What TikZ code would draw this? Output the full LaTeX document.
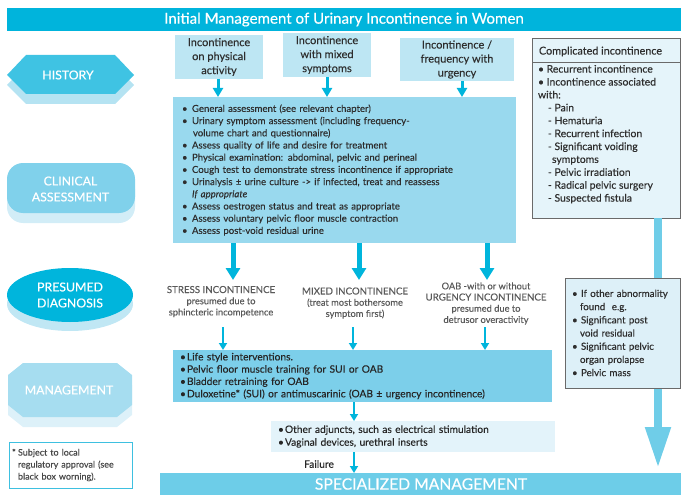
\documentclass[tikz,border=0pt]{standalone}
\usepackage{fontspec}
\setmainfont{Lato}[FakeBold=0.25]
\usetikzlibrary{arrows.meta,shapes.geometric,calc}
\definecolor{titlecol}{HTML}{00B4DC}
\definecolor{histcol}{HTML}{3FC3E3}
\definecolor{histsh}{HTML}{B5E3F2}
\definecolor{cliniccol}{HTML}{80D1EB}
\definecolor{clinicsh}{HTML}{D2EDF7}
\definecolor{diagcol}{HTML}{00B5DC}
\definecolor{diagsh}{HTML}{C0E7F4}
\definecolor{mgmtcol}{HTML}{A6DDF0}
\definecolor{mgmtsh}{HTML}{DDF1F9}
\definecolor{histfill}{HTML}{BDE6F3}
\definecolor{clinfill}{HTML}{99D9EE}
\definecolor{mgmtfill}{HTML}{7CCFEA}
\definecolor{adjfill}{HTML}{E3F3FA}
\definecolor{compfill}{HTML}{E5F4FA}
\definecolor{otherfill}{HTML}{DDF0F8}
\definecolor{speccol}{HTML}{6DCDE8}
\definecolor{arrowcol}{HTML}{00B5DC}
\definecolor{bigarrowcol}{HTML}{6FCDE8}
\definecolor{txt}{HTML}{2E2E2E}
\definecolor{graytxt}{HTML}{5A5A5A}
\definecolor{boxborder}{HTML}{6A6A6A}
\definecolor{footborder}{HTML}{3EC0E0}
\newcommand\clb{\makebox[10pt][l]{\textbullet}}
\newcommand\mgb{\makebox[7pt][l]{\textbullet}}
\begin{document}
\begin{tikzpicture}[x=1pt,y=-1pt,
  every node/.style={inner sep=0pt, outer sep=0pt},
  sidelabel/.style={text=white, align=center, font=\fontsize{12.3}{16}\selectfont},
  histbox/.style={fill=histfill, text=txt, align=center, font=\fontsize{11}{14}\selectfont},
  listbox/.style={text=txt, align=left},
  diagtext/.style={text=graytxt, align=center, font=\fontsize{9.3}{11.2}\selectfont},
  toparrow/.style={draw=arrowcol, line width=3pt, -{Triangle[width=10pt,length=9pt]}},
  midarrow/.style={draw=arrowcol, line width=5pt, -{Triangle[width=14pt,length=12pt]}},
  smallarrow/.style={draw=arrowcol, line width=2.2pt, -{Triangle[width=8pt,length=7pt]}},
  bigarrow/.style={draw=bigarrowcol, line width=8pt, -{Triangle[width=24pt,length=41pt]}}
]
\useasboundingbox (0,0) rectangle (681,495);

% title
\node[fill=titlecol, minimum width=674, minimum height=23, text=white,
      font=\fontsize{15.1}{17}\selectfont] (title) at (344,19.5) {Initial Management of Urinary Incontinence in Women};

% left side shapes
\fill[histsh] (7,85) -- (26,65) -- (115,65) -- (134,85) -- (115,104) -- (26,104) -- cycle;
\fill[histcol] (7,75) -- (26,55) -- (115,55) -- (134,75) -- (115,94) -- (26,94) -- cycle;
\node[sidelabel] (history) at (68,75) {HISTORY};

\fill[clinicsh, rounded corners=16pt] (7,173) rectangle (135,223);
\fill[cliniccol, rounded corners=16pt] (7,163) rectangle (135,213);
\node[sidelabel] (clinical) at (70.5,189) {CLINICAL\\ASSESSMENT};

\fill[diagsh] (70,304) ellipse [x radius=63, y radius=27];
\fill[diagcol] (70,295) ellipse [x radius=63, y radius=27];
\node[sidelabel] (presumed) at (70,295) {PRESUMED\\DIAGNOSIS};

\fill[mgmtsh] (23,373) -- (117,373) -- (132,385) -- (132,415) -- (117,427) -- (23,427) -- (8,415) -- (8,385) -- cycle;
\fill[mgmtcol] (23,363) -- (117,363) -- (132,375) -- (132,405) -- (117,417) -- (23,417) -- (8,405) -- (8,375) -- cycle;
\node[sidelabel] (management) at (69,390) {MANAGEMENT};

% footnote
\node[draw=footborder, line width=0.9pt, minimum width=123, minimum height=46, text width=117,
      inner xsep=3pt, listbox, text=graytxt!80!black, font=\fontsize{9}{12}\selectfont] (foot) at (70.5,465)
  {\makebox[6pt][l]{*}Subject to local\\\hspace*{6pt}regulatory approval (see\\\hspace*{6pt}black box worning).};

% history boxes
\node[histbox, minimum width=88, minimum height=44] (h1) at (219,57) {Incontinence\\on physical\\activity};
\node[histbox, minimum width=88, minimum height=44] (h2) at (327,55) {Incontinence\\with mixed\\symptoms};
\node[histbox, minimum width=114, minimum height=43] (h3) at (457,59.5) {Incontinence /\\frequency with\\urgency};

% clinical box
\node[fill=clinfill, listbox, minimum width=343, minimum height=146, inner xsep=9pt, text width=325,
      font=\fontsize{9.6}{12.2}\selectfont] (clin) at (344.5,170) {%
\clb General assessment (see relevant chapter)\\
\clb Urinary symptom assessment (including frequency-\\
\hspace*{11pt}volume chart and questionnaire)\\
\clb Assess quality of life and desire for treatment\\
\clb Physical examination: abdominal, pelvic and perineal\\
\clb Cough test to demonstrate stress incontinence if appropriate\\
\clb Urinalysis ± urine culture -> if infected, treat and reassess\\
\hspace*{10pt}\textit{If appropriate}\\
\clb Assess oestrogen status and treat as appropriate\\
\clb Assess voluntary pelvic floor muscle contraction\\
\clb Assess post-void residual urine};

\draw[toparrow] (h1.south -| 218,0) -- (clin.north -| 218,0);
\draw[toparrow] (h2.south) -- (clin.north -| h2.south);
\draw[toparrow] (h3.south -| 462,0) -- (clin.north -| 462,0);

% presumed diagnoses
\node[diagtext] (stress) at (221,301.5) {{\fontsize{9.7}{11.2}\selectfont STRESS INCONTINENCE}\\presumed due to\\sphincteric incompetence};
\node[diagtext] (mixed) at (355,303) {{\fontsize{9.7}{11.2}\selectfont MIXED INCONTINENCE}\\(treat most bothersome\\symptom first)};
\node[diagtext] (oab) at (486,303.5) {OAB -with or without\\{\fontsize{9.7}{11.2}\selectfont URGENCY INCONTINENCE}\\presumed due to\\detrusor overactivity};

\coordinate (d1) at (233,280);
\coordinate (d2) at (359,280);
\coordinate (d3) at (487,280);
\draw[midarrow] (clin.south -| d1) -- (d1);
\draw[midarrow] (clin.south -| d2) -- (d2);
\draw[midarrow] (clin.south -| d3) -- (d3);

% management box
\node[fill=mgmtfill, listbox, text=black!85, minimum width=379, minimum height=52, inner xsep=7pt, text width=365,
      font=\fontsize{10.2}{12.3}\selectfont] (mgmt) at (362.5,376) {%
\mgb Life style interventions.\\
\mgb Pelvic floor muscle training for SUI or OAB\\
\mgb Bladder retraining for OAB\\
\mgb Duloxetine* (SUI) or antimuscarinic (OAB ± urgency incontinence)};

\coordinate (m1) at (223,327);
\coordinate (m2) at (353,327);
\coordinate (m3) at (485,327);
\draw[smallarrow] (m1) -- (mgmt.north -| m1);
\draw[smallarrow] (m2) -- (mgmt.north -| m2);
\draw[smallarrow] (m3) -- (mgmt.north -| m3);

% adjuncts box
\node[fill=adjfill, listbox, text=black!85, minimum width=284, minimum height=31, inner xsep=7pt, text width=270,
      font=\fontsize{10.2}{12.8}\selectfont] (adj) at (413,436.5) {%
\mgb Other adjuncts, such as electrical stimulation\\
\mgb Vaginal devices, urethral inserts};

\draw[smallarrow] (mgmt.south -| 354,0) -- (adj.north -| 354,0);

% specialized management
\node[fill=speccol, minimum width=521, minimum height=22, text=white,
      font=\fontsize{15.7}{17}\selectfont] (spec) at (420.5,484) {\hspace*{1pt}SPECIALIZED MANAGEMENT};
\node[text=black!85, font=\fontsize{10.3}{12}\selectfont] (failure) at (319,464) {Failure};
\draw[smallarrow] (adj.south -| 354,0) -- (spec.north -| 354,0);

% complicated incontinence
\node[fill=compfill, draw=boxborder, line width=0.8pt, minimum width=148, minimum height=180] (comp) at (606,128) {};
\draw[boxborder, line width=0.6pt] (comp.west |- 0,62) -- (comp.east |- 0,62);
\node[anchor=west, text=txt, font=\fontsize{10.8}{12}\selectfont] (comphead) at (539,51.5) {Complicated incontinence};
\node[anchor=north west, listbox, font=\fontsize{10.4}{12.9}\selectfont] (complist) at (538,65) {%
\textbullet\ Recurrent incontinence\\
\textbullet\ Incontinence associated\\
with:\\
\hspace*{10pt}- Pain\\
\hspace*{10pt}- Hematuria\\
\hspace*{10pt}- Recurrent infection\\
\hspace*{10pt}- Significant voiding\\
\hspace*{14pt}symptoms\\
\hspace*{10pt}- Pelvic irradiation\\
\hspace*{10pt}- Radical pelvic surgery\\
\hspace*{10pt}- Suspected fistula};

% big arrow
\coordinate (bigtip) at (658,468);
\draw[bigarrow] (comp.south -| bigtip) -- (bigtip);

% other abnormality box
\node[fill=otherfill, draw=boxborder, line width=0.8pt, listbox, minimum width=115, minimum height=110,
      inner xsep=7pt, text width=101, font=\fontsize{9.8}{13.2}\selectfont] (other) at (622.5,333) {%
\textbullet\ If other abnormality\\
\hspace*{8pt}found\ \ e.g.\\
\textbullet\ Significant post\\
\hspace*{8pt}void residual\\
\textbullet\ Significant pelvic\\
\hspace*{8pt}organ prolapse\\
\textbullet\ Pelvic mass};
\end{tikzpicture}
\end{document}
